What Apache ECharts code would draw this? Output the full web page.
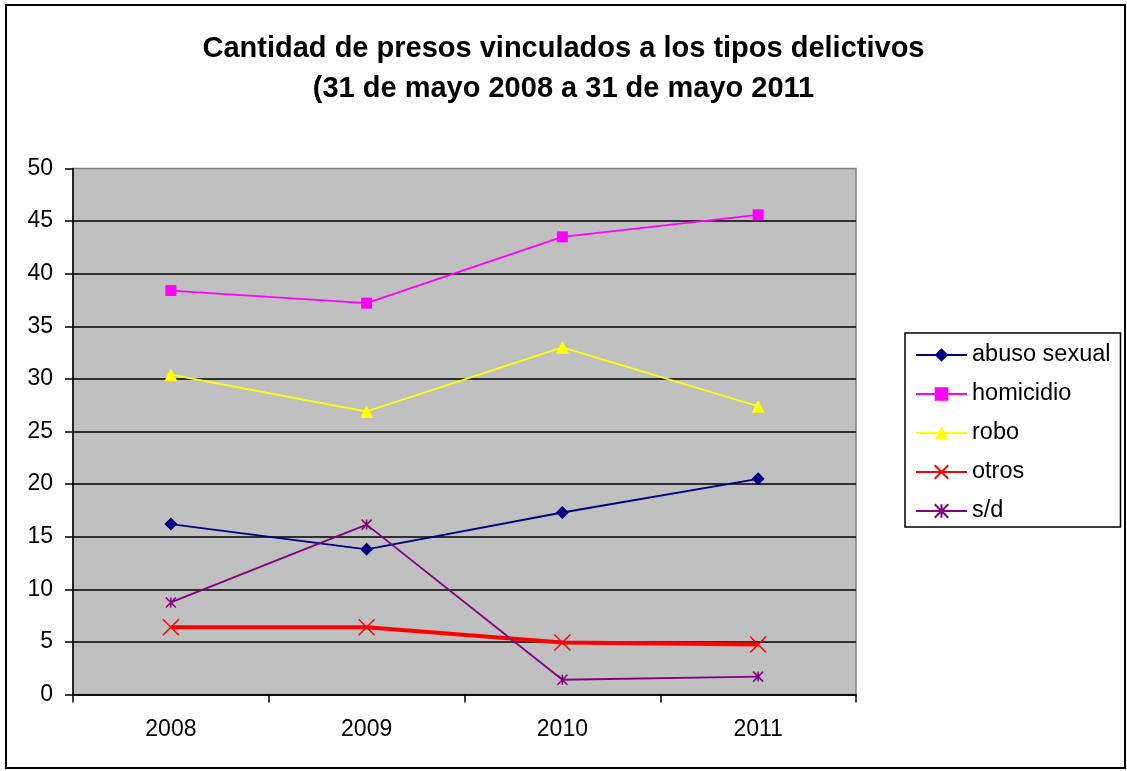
<!DOCTYPE html>
<html>
<head>
<meta charset="utf-8">
<title>Cantidad de presos vinculados a los tipos delictivos</title>
<script src="https://cdn.jsdelivr.net/npm/echarts@6/dist/echarts.min.js"></script>
<style>
  html, body { margin: 0; padding: 0; background: #fff; }
  #main { width: 1127px; height: 771px; }
</style>
</head>
<body>
<div id="main"></div>
<script>
// datos
const years = ['2008', '2009', '2010', '2011'];
const abusoSexual = [16.2, 13.8, 17.3, 20.5];
const homicidio = [38.4, 37.2, 43.5, 45.6];
const robo = [30.4, 26.9, 33.0, 27.4];
const otros = [6.4, 6.4, 4.95, 4.75];
const sinDatos = [8.75, 16.15, 1.4, 1.7];

const font = 'Arial, "Liberation Sans", sans-serif';
// marcadores de Excel que echarts no trae
const xMark = 'path://M0,0L10,10M10,0L0,10';
const starMark = 'path://M0,0L10,10M10,0L0,10M5,0L5,10';

const myChart = echarts.init(document.getElementById('main'));

function serie(name, data, color, symbol, size, width, stroke) {
  return {
    name: name,
    type: 'line',
    data: data,
    symbol: symbol,
    symbolSize: size,
    showAllSymbol: true,
    lineStyle: { color: color, width: width },
    itemStyle: stroke
      ? { color: 'rgba(0,0,0,0)', borderColor: color, borderWidth: 1.5 }
      : { color: color },
    emphasis: { disabled: true },
    animation: false
  };
}

const option = {
  backgroundColor: '#fff',
  animation: false,
  title: {
    text: 'Cantidad de presos vinculados a los tipos delictivos\n(31 de mayo 2008 a 31 de mayo 2011',
    left: 'center',
    top: 24,
    textStyle: {
      fontFamily: font,
      fontWeight: 'bold',
      fontSize: 29,
      lineHeight: 40,
      color: '#000'
    }
  },
  graphic: [{
    type: 'rect',
    shape: { x: 6, y: 5, width: 1119, height: 763 },
    style: { fill: 'none', stroke: '#000', lineWidth: 2 },
    silent: true
  }],
  legend: {
    orient: 'vertical',
    left: 905,
    top: 333,
    padding: [10, 10, 4, 10],
    itemWidth: 51,
    itemHeight: 17,
    itemGap: 15,
    borderColor: '#000',
    borderWidth: 1.5,
    backgroundColor: '#fff',
    selectedMode: false,
    textStyle: { fontFamily: font, fontSize: 23.5, color: '#000' },
    data: ['abuso sexual', 'homicidio', 'robo', 'otros', 's/d']
  },
  grid: {
    left: 73,
    right: 271,
    top: 168.5,
    bottom: 76.5,
    show: true,
    backgroundColor: '#C0C0C0',
    borderColor: '#808080',
    borderWidth: 1.5
  },
  xAxis: {
    type: 'category',
    data: years,
    boundaryGap: true,
    axisLine: { lineStyle: { color: '#000', width: 1.5 } },
    axisTick: { show: true, length: 8, lineStyle: { color: '#000', width: 1.5 } },
    axisLabel: { fontFamily: font, fontSize: 23, color: '#000', margin: 24 },
    splitLine: { show: false }
  },
  yAxis: {
    type: 'value',
    min: 0,
    max: 50,
    interval: 5,
    axisLine: { show: true, lineStyle: { color: '#000', width: 1.5 } },
    axisTick: { show: true, length: 8, lineStyle: { color: '#000', width: 1.5 } },
    axisLabel: { fontFamily: font, fontSize: 23, color: '#000', margin: 20 },
    splitLine: { show: true, showMaxLine: false, lineStyle: { color: '#000', width: 1.5 } }
  },
  series: [
    serie('abuso sexual', abusoSexual, '#000080', 'diamond', 13, 1.8, false),
    serie('homicidio', homicidio, '#FF00FF', 'rect', 11, 1.8, false),
    serie('robo', robo, '#FFFF00', 'triangle', 13, 1.8, false),
    serie('otros', otros, '#FF0000', xMark, 16, 4, true),
    serie('s/d', sinDatos, '#800080', starMark, 10, 1.8, true)
  ]
};

myChart.setOption(option);
</script>
</body>
</html>
